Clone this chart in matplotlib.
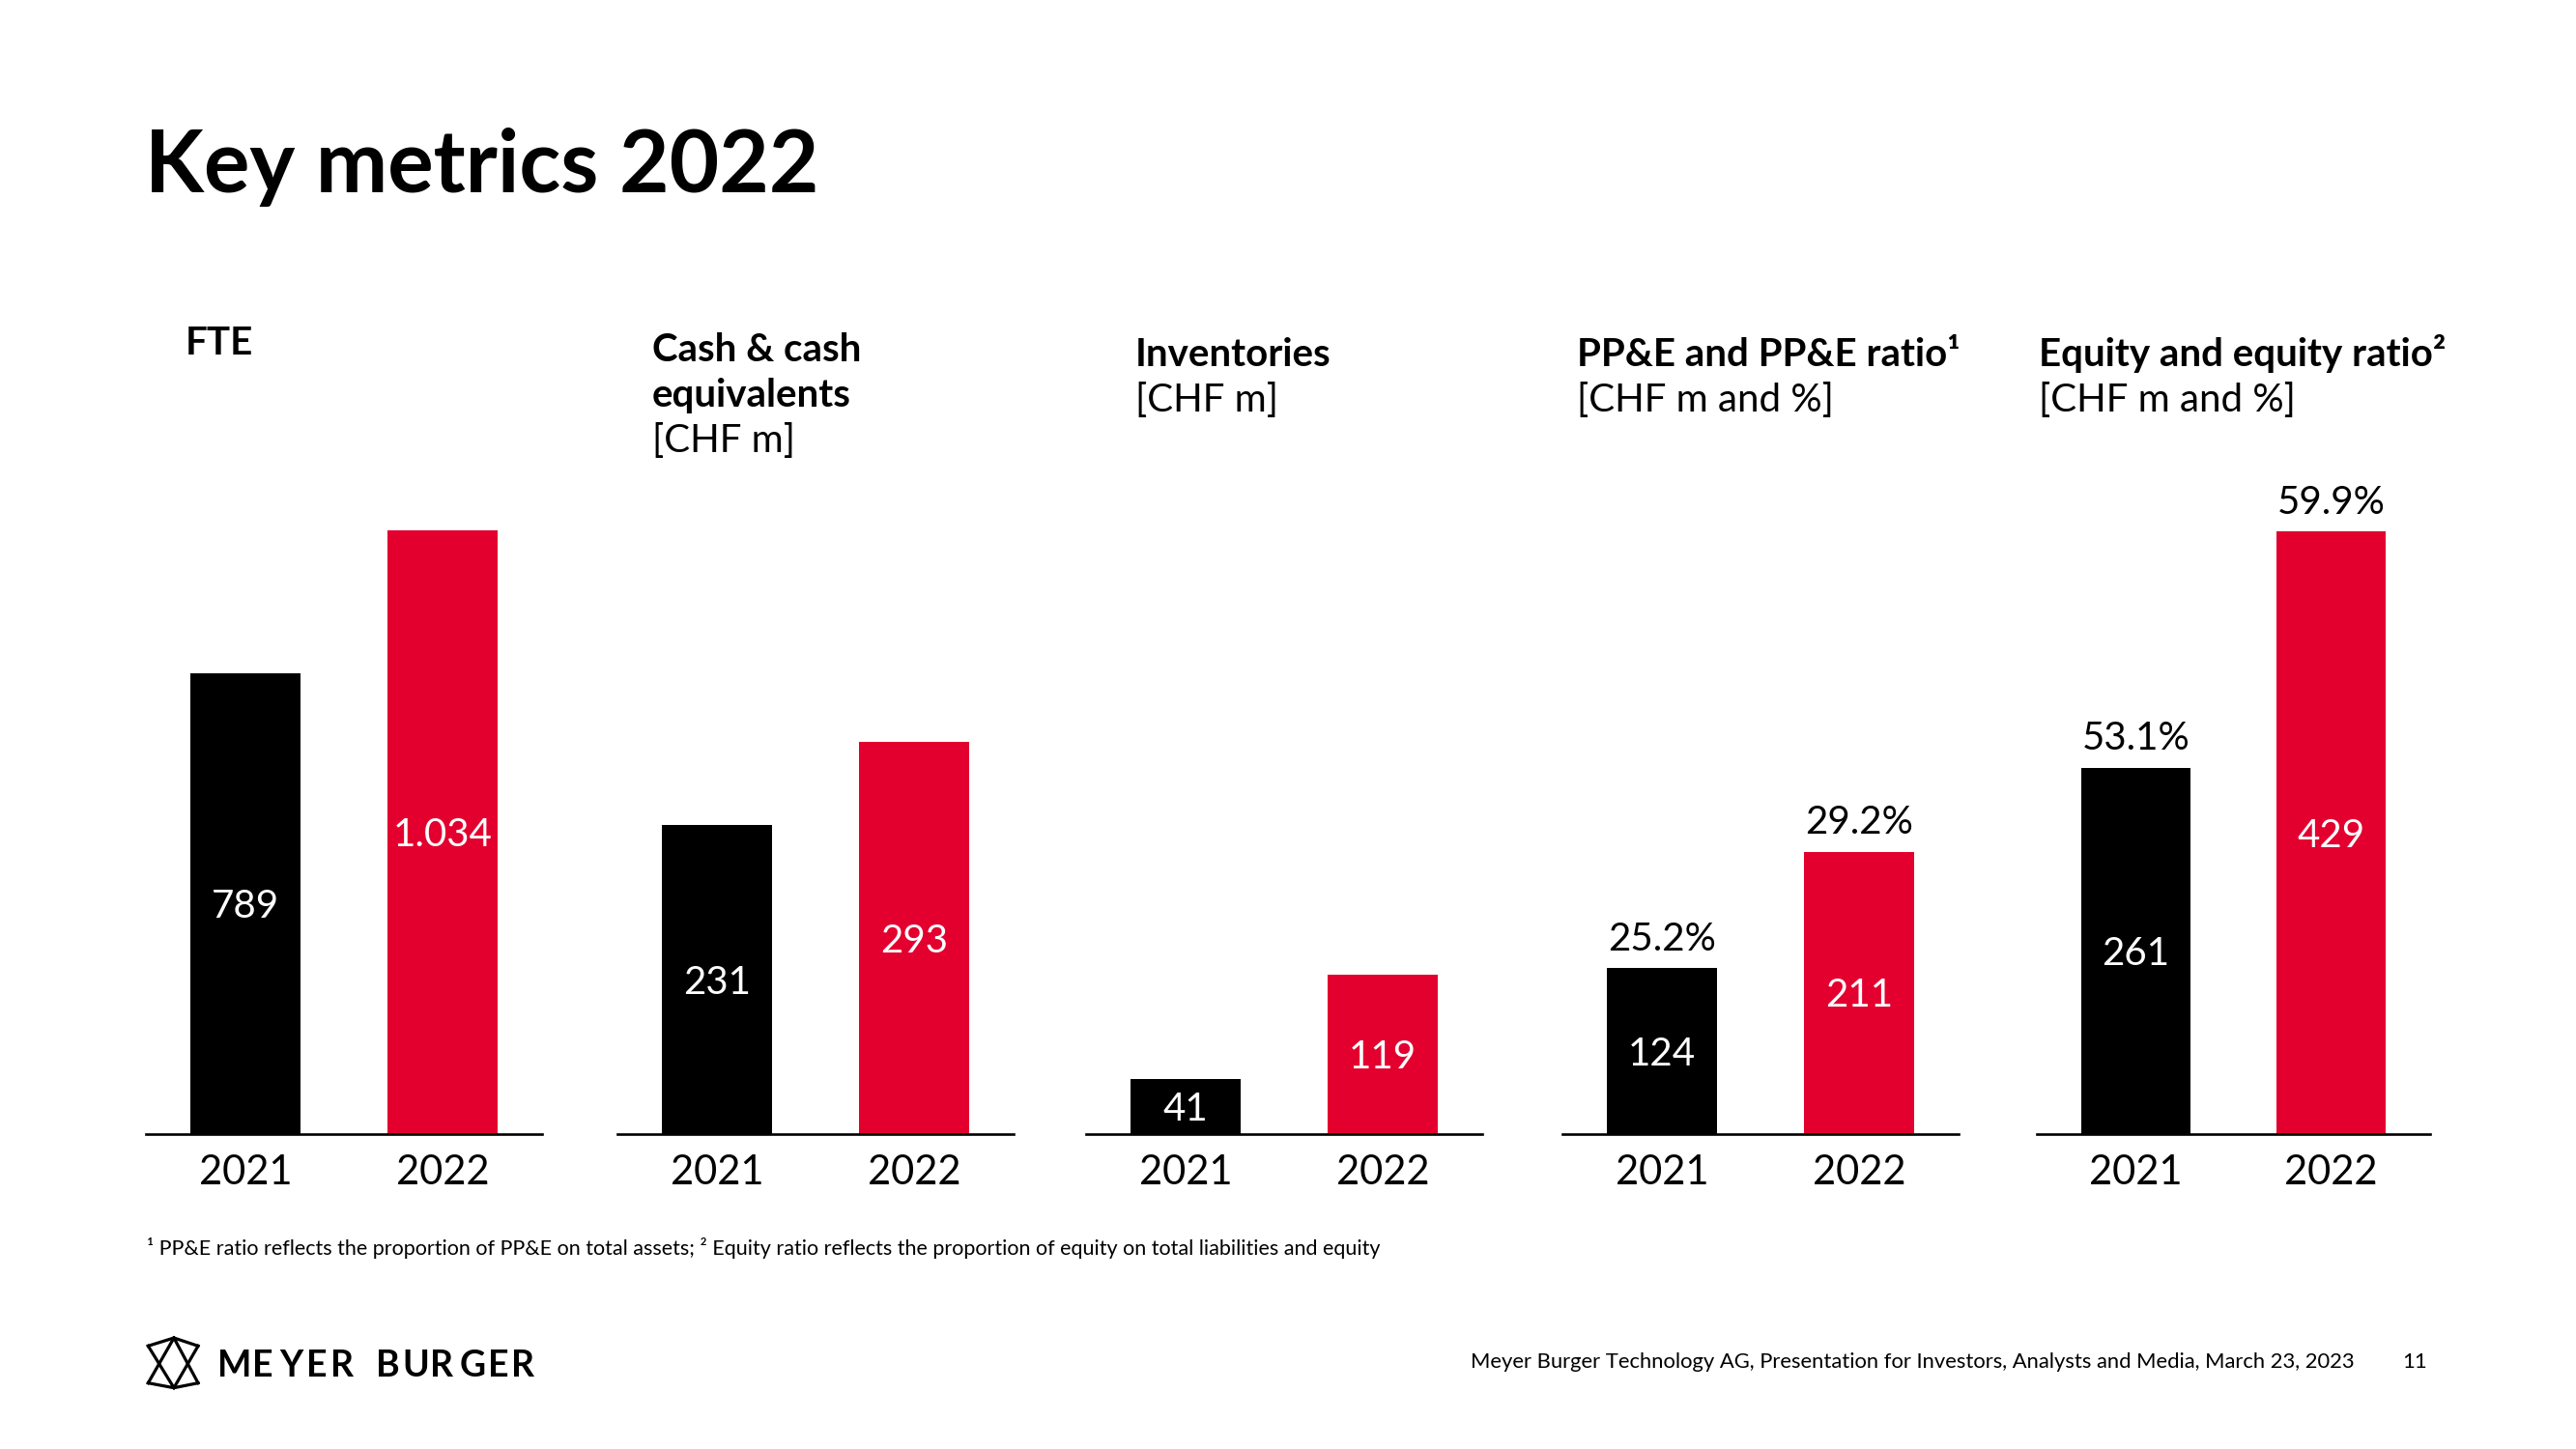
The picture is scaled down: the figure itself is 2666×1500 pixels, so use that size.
import matplotlib
matplotlib.use("Agg")
import matplotlib.pyplot as plt
from matplotlib.lines import Line2D
from matplotlib.textpath import TextPath
from matplotlib.font_manager import FontProperties

# ---------------- data ----------------
years = ["2021", "2022"]
fte_values = [789, 1034]
fte_labels = ["789", "1.034"]
cash_values = [231, 293]
inventory_values = [41, 119]
ppe_values = [124, 211]
ppe_ratio = [25.2, 29.2]
equity_values = [261, 429]
equity_ratio = [53.1, 59.9]

panel_titles = [
    ["FTE"],
    ["Cash & cash", "equivalents"],
    ["Inventories"],
    ["PP&E and PP&E ratio¹"],
    ["Equity and equity ratio²"],
]
panel_units = [None, "[CHF m]", "[CHF m]", "[CHF m and %]", "[CHF m and %]"]

title = "Key metrics 2022"
footnote = ("¹ PP&E ratio reflects the proportion of PP&E on total assets; "
            "² Equity ratio reflects the proportion of equity on total liabilities and equity")
footer = "Meyer Burger Technology AG, Presentation for Investors, Analysts and Media, March 23, 2023"
page_no = "11"
brand = "MEYER BURGER"

# ---------------- style ----------------
RED = "#E3002F"
BLACK = "#000000"
FONT = ["Lato", "DejaVu Sans"]
plt.rcParams["font.family"] = FONT

W, H = 2666, 1500
DPI = 100
fig = plt.figure(figsize=(W / DPI, H / DPI), dpi=DPI)
fig.patch.set_facecolor("white")


def fx(x):
    return x / W


def fy(y):
    return 1 - y / H


# panel geometry (pixels)
panel_left = [151, 639, 1124, 1617, 2108]
panel_width = [410, 410, 410, 410, 407]
baseline_y = 1174
axes_h = 700
scales = [0.6045, 1.384, 1.384, 1.384, 1.454]  # px per unit
header_x = [192, 675, 1175, 1632, 2110]
header_base = [367, 374, 379, 379, 379]
line_gap = 47
HDR_FS = 29

panel_values = [fte_values, cash_values, inventory_values, ppe_values, equity_values]
panel_labels = [fte_labels,
                [str(v) for v in cash_values],
                [str(v) for v in inventory_values],
                [str(v) for v in ppe_values],
                [str(v) for v in equity_values]]
panel_ratios = [None, None, None, ppe_ratio, equity_ratio]

VAL_FS = 29
YEAR_FS = 30
digit_h = 0.72  # digit height as fraction of em

for i in range(5):
    ax = fig.add_axes([fx(panel_left[i]), fy(baseline_y), fx(panel_width[i]), axes_h / H])
    ax.set_xlim(-0.505, 1.505)
    ax.set_ylim(0, axes_h / scales[i])
    ax.axis("off")
    vals = panel_values[i]
    ax.bar([0, 1], vals, width=0.56, color=[BLACK, RED], zorder=2)
    ax.axhline(0, color=BLACK, lw=1.9, zorder=3, clip_on=False)
    for j, v in enumerate(vals):
        ax.annotate(panel_labels[i][j], xy=(j, v / 2), xytext=(0, -VAL_FS * digit_h / 2),
                    textcoords="offset points", ha="center", va="baseline",
                    color="white", fontsize=VAL_FS)
        ax.annotate(years[j], xy=(j, 0), xytext=(0, -37.5),
                    textcoords="offset points", ha="center", va="baseline",
                    color=BLACK, fontsize=YEAR_FS)
        if panel_ratios[i] is not None:
            ax.annotate(f"{panel_ratios[i][j]:.1f}%", xy=(j, v),
                        xytext=(0, 23.8 - VAL_FS * digit_h / 2),
                        textcoords="offset points", ha="center", va="baseline",
                        color=BLACK, fontsize=VAL_FS)

    lines = panel_titles[i]
    yb = header_base[i]
    for k, t in enumerate(lines):
        fig.text(fx(header_x[i]), fy(yb + k * line_gap), t, ha="left", va="baseline",
                 fontsize=HDR_FS, fontweight="bold", color=BLACK)
    if panel_units[i]:
        fig.text(fx(header_x[i]), fy(yb + len(lines) * line_gap), panel_units[i],
                 ha="left", va="baseline", fontsize=HDR_FS, color=BLACK)

# title
fig.text(fx(150), fy(199), title, ha="left", va="baseline",
         fontsize=64, fontweight="bold", color=BLACK)

# footnote
fig.text(fx(152), fy(1299), footnote, ha="left", va="baseline",
         fontsize=15.5, color=BLACK)

# footer
fig.text(fx(2437), fy(1416), footer, ha="right", va="baseline", fontsize=15.8, color=BLACK)
fig.text(fx(2512), fy(1416), page_no, ha="right", va="baseline", fontsize=15.8, color=BLACK)

# logo icon
pts = lambda zx, zy: (fx(140 + zx / 3), fy(1370 + zy / 3))
segs = [
    [(40, 70), (120, 45), (195, 70)],
    [(40, 185), (120, 200), (195, 185)],
    [(40, 70), (120, 200)],
    [(195, 70), (120, 200)],
    [(120, 45), (40, 185)],
    [(120, 45), (195, 185)],
]
for s in segs:
    xs = [pts(*p)[0] for p in s]
    ys = [pts(*p)[1] for p in s]
    fig.add_artist(Line2D(xs, ys, color=BLACK, lw=2.3, solid_joinstyle="miter",
                          transform=fig.transFigure))

# brand text with letter spacing
fp = FontProperties(family=FONT, weight="bold", size=27)
fs_px = 27 * DPI / 72
widths = []
x0s = []
for ch in brand:
    if ch == " ":
        widths.append(0)
        x0s.append(0)
        continue
    ext = TextPath((0, 0), ch, size=fs_px, prop=fp).get_extents()
    widths.append(ext.width)
    x0s.append(ext.x0)
word_gap = 26
n_gaps = sum(1 for a, b in zip(brand[:-1], brand[1:]) if a != " " and b != " ")
gap = (325 - word_gap - sum(widths)) / n_gaps
xpos = 228
for k, ch in enumerate(brand):
    if ch == " ":
        xpos += word_gap - gap
        continue
    fig.text(fx(xpos - x0s[k]), fy(1425), ch, ha="left", va="baseline",
             fontproperties=fp, color=BLACK)
    xpos += widths[k] + gap

fig.savefig("out.png", dpi=DPI, facecolor="white")
